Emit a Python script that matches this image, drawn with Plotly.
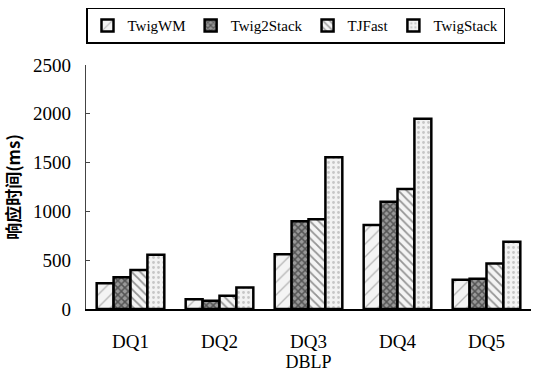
import plotly.graph_objects as go

categories = ["DQ1", "DQ2", "DQ3", "DQ4", "DQ5"]
series_names = ["TwigWM", "Twig2Stack", "TJFast", "TwigStack"]
twigwm = [265, 100, 560, 860, 300]
twig2stack = [325, 85, 900, 1100, 310]
tjfast = [400, 135, 920, 1230, 465]
twigstack = [555, 220, 1555, 1950, 690]
y_ticks = [0, 500, 1000, 1500, 2000, 2500]

values = [twigwm, twig2stack, tjfast, twigstack]
patterns = [
    dict(shape="/", fgcolor="#777", bgcolor="#f4f4f4", size=9, solidity=0.15),
    dict(shape="x", fgcolor="#111", bgcolor="#999", size=5, solidity=0.5),
    dict(shape="\\", fgcolor="#333", bgcolor="#f4f4f4", size=6, solidity=0.3),
    dict(shape=".", fgcolor="#999", bgcolor="#f2f2f2", size=5, solidity=0.25),
]

fig = go.Figure()
for name, vals, pat in zip(series_names, values, patterns):
    fig.add_trace(go.Bar(
        x=categories, y=vals, name=name,
        marker=dict(color="#f4f4f4", pattern=pat,
                    line=dict(color="black", width=2.5)),
    ))

serif = "Liberation Serif"
fig.update_layout(
    width=533, height=377,
    margin=dict(l=86, r=2, t=65, b=68),
    paper_bgcolor="white", plot_bgcolor="white",
    barmode="group", bargap=0.24, bargroupgap=0.0,
    font=dict(family=serif, size=18, color="black"),
    showlegend=True,
    legend=dict(orientation="h", x=0.0, xanchor="left", y=1.235, yanchor="top",
                bordercolor="black", borderwidth=1.5, bgcolor="white",
                font=dict(family=serif, size=15, color="black"),
                itemwidth=30, tracegroupgap=0),
    xaxis=dict(showline=True, linecolor="black", linewidth=1.5, ticks="",
               ticklabelstandoff=14, tickfont=dict(family=serif, size=19),
               title=dict(text="DBLP", font=dict(family=serif, size=18), standoff=0)),
    yaxis=dict(range=[0, 2500], tickvals=y_ticks, showgrid=False, zeroline=False,
               showline=True, linecolor="#444", linewidth=1.2,
               ticks="inside", ticklen=4, tickcolor="#444",
               ticklabelstandoff=10,
               tickfont=dict(family=serif, size=19),
               title=dict(text="响应时间(ms)", standoff=8,
                          font=dict(family="Noto Sans CJK SC", size=17, weight="bold"))),
)

fig.write_html("out.html")
